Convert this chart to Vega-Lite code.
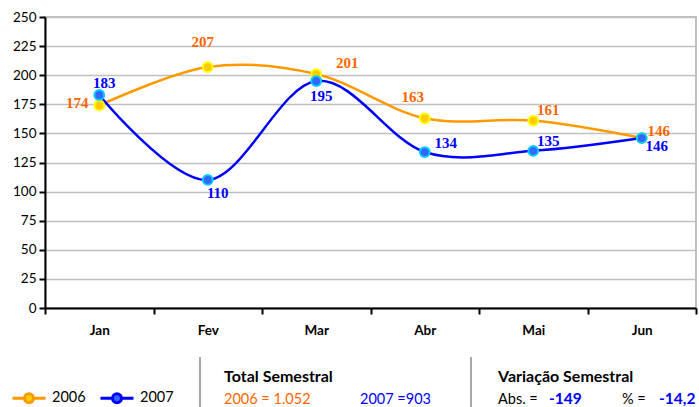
{
  "$schema": "https://vega.github.io/schema/vega-lite/v6.json",
  "width": 651,
  "height": 291,
  "autosize": {"type": "none"},
  "padding": {"left": 45, "top": 17, "right": 3, "bottom": 99},
  "background": "#ffffff",
  "config": {
    "view": {"stroke": "#c0c0c0", "strokeWidth": 2},
    "font": "Lato"
  },
  "data": {
    "values": [
      {"month": "Jan", "series": "2006", "value": 174},
      {"month": "Fev", "series": "2006", "value": 207},
      {"month": "Mar", "series": "2006", "value": 201},
      {"month": "Abr", "series": "2006", "value": 163},
      {"month": "Mai", "series": "2006", "value": 161},
      {"month": "Jun", "series": "2006", "value": 146},
      {"month": "Jan", "series": "2007", "value": 183},
      {"month": "Fev", "series": "2007", "value": 110},
      {"month": "Mar", "series": "2007", "value": 195},
      {"month": "Abr", "series": "2007", "value": 134},
      {"month": "Mai", "series": "2007", "value": 135},
      {"month": "Jun", "series": "2007", "value": 146}
    ]
  },
  "encoding": {
    "x": {
      "field": "month", "type": "ordinal", "sort": ["Jan", "Fev", "Mar", "Abr", "Mai", "Jun"],
      "bandPosition": 0.5,
      "scale": {"type": "band", "paddingInner": 0, "paddingOuter": 0},
      "axis": {
        "title": null, "labelAngle": 0, "tickBand": "extent", "domainColor": "#000000", "domainWidth": 2,
        "tickColor": "#000000", "tickWidth": 2, "tickSize": 6, "labelPadding": 9,
        "labelFont": "Lato", "labelFontSize": 13.5, "labelFontWeight": "bold", "labelColor": "#000000", "grid": false
      }
    },
    "y": {
      "field": "value", "type": "quantitative",
      "scale": {"domain": [0, 250], "nice": false, "zero": true},
      "axis": {
        "title": null, "values": [0, 25, 50, 75, 100, 125, 150, 175, 200, 225, 250],
        "domainColor": "#000000", "domainWidth": 2, "tickColor": "#000000", "tickWidth": 2, "tickSize": 6,
        "labelPadding": 3, "labelFont": "Lato", "labelFontSize": 13.5, "labelColor": "#000000",
        "grid": true, "gridColor": "#c0c0c0", "gridWidth": 1.5
      }
    }
  },
  "layer": [
    {
      "mark": {"type": "line", "interpolate": "cardinal", "strokeWidth": 2.5},
      "encoding": {
        "color": {
          "field": "series", "type": "nominal",
          "scale": {"domain": ["2006", "2007"], "range": ["#ff9900", "#0000ff"]},
          "legend": {
            "orient": "none", "legendX": -34, "legendY": 363, "direction": "horizontal", "title": null,
            "symbolType": "M-1,0H-0.3M0.3,0H1M0,-0.27A0.27,0.27,0,1,1,0,0.27A0.27,0.27,0,1,1,0,-0.27",
            "symbolSize": 1089, "symbolStrokeWidth": 3,
            "labelFont": "Lato", "labelFontSize": 14.5, "labelColor": "#000000", "labelOffset": 5,
            "columnPadding": 8, "padding": 0,
            "encode": {"symbols": {"update": {"fill": {"signal": "datum.value === '2006' ? '#ffcc00' : '#3366ff'"}, "fillOpacity": {"value": 1}}}}
          }
        }
      }
    },
    {
      "mark": {"type": "point", "shape": "circle", "filled": true, "size": 95, "strokeWidth": 2, "opacity": 1},
      "encoding": {
        "fill": {"field": "series", "type": "nominal", "scale": {"domain": ["2006", "2007"], "range": ["#ffcc00", "#3366ff"]}, "legend": null},
        "stroke": {"field": "series", "type": "nominal", "scale": {"domain": ["2006", "2007"], "range": ["#ffff00", "#00ccff"]}, "legend": null}
      }
    },
    {"transform": [{"filter": "datum.series == '2006' && datum.month == 'Jan'"}], "mark": {"type": "text", "dx": -22, "dy": -2, "font": "Liberation Serif", "fontSize": 15, "fontWeight": "bold", "color": "#ff6600"}, "encoding": {"text": {"field": "value"}}},
    {"transform": [{"filter": "datum.series == '2006' && datum.month == 'Fev'"}], "mark": {"type": "text", "dx": -5, "dy": -25, "font": "Liberation Serif", "fontSize": 15, "fontWeight": "bold", "color": "#ff6600"}, "encoding": {"text": {"field": "value"}}},
    {"transform": [{"filter": "datum.series == '2006' && datum.month == 'Mar'"}], "mark": {"type": "text", "dx": 31, "dy": -11, "font": "Liberation Serif", "fontSize": 15, "fontWeight": "bold", "color": "#ff6600"}, "encoding": {"text": {"field": "value"}}},
    {"transform": [{"filter": "datum.series == '2006' && datum.month == 'Abr'"}], "mark": {"type": "text", "dx": -12, "dy": -21, "font": "Liberation Serif", "fontSize": 15, "fontWeight": "bold", "color": "#ff6600"}, "encoding": {"text": {"field": "value"}}},
    {"transform": [{"filter": "datum.series == '2006' && datum.month == 'Mai'"}], "mark": {"type": "text", "dx": 15, "dy": -11, "font": "Liberation Serif", "fontSize": 15, "fontWeight": "bold", "color": "#ff6600"}, "encoding": {"text": {"field": "value"}}},
    {"transform": [{"filter": "datum.series == '2006' && datum.month == 'Jun'"}], "mark": {"type": "text", "dx": 17, "dy": -7, "font": "Liberation Serif", "fontSize": 15, "fontWeight": "bold", "color": "#ff6600"}, "encoding": {"text": {"field": "value"}}},
    {"transform": [{"filter": "datum.series == '2007' && datum.month == 'Jan'"}], "mark": {"type": "text", "dx": 5, "dy": -12, "font": "Liberation Serif", "fontSize": 15, "fontWeight": "bold", "color": "#0000ff"}, "encoding": {"text": {"field": "value"}}},
    {"transform": [{"filter": "datum.series == '2007' && datum.month == 'Fev'"}], "mark": {"type": "text", "dx": 10, "dy": 13, "font": "Liberation Serif", "fontSize": 15, "fontWeight": "bold", "color": "#0000ff"}, "encoding": {"text": {"field": "value"}}},
    {"transform": [{"filter": "datum.series == '2007' && datum.month == 'Mar'"}], "mark": {"type": "text", "dx": 5, "dy": 15, "font": "Liberation Serif", "fontSize": 15, "fontWeight": "bold", "color": "#0000ff"}, "encoding": {"text": {"field": "value"}}},
    {"transform": [{"filter": "datum.series == '2007' && datum.month == 'Abr'"}], "mark": {"type": "text", "dx": 21, "dy": -9, "font": "Liberation Serif", "fontSize": 15, "fontWeight": "bold", "color": "#0000ff"}, "encoding": {"text": {"field": "value"}}},
    {"transform": [{"filter": "datum.series == '2007' && datum.month == 'Mai'"}], "mark": {"type": "text", "dx": 15, "dy": -10, "font": "Liberation Serif", "fontSize": 15, "fontWeight": "bold", "color": "#0000ff"}, "encoding": {"text": {"field": "value"}}},
    {"transform": [{"filter": "datum.series == '2007' && datum.month == 'Jun'"}], "mark": {"type": "text", "dx": 15, "dy": 8, "font": "Liberation Serif", "fontSize": 15, "fontWeight": "bold", "color": "#0000ff"}, "encoding": {"text": {"field": "value"}}},
    {
      "data": {"values": [{"divider": "a"}]},
      "mark": {"type": "rule", "color": "#a8a8a8", "strokeWidth": 2},
      "encoding": {"x": {"value": 155}, "y": {"value": 340}, "y2": {"value": 392}}
    },
    {
      "data": {"values": [{"divider": "b"}]},
      "mark": {"type": "rule", "color": "#a8a8a8", "strokeWidth": 2},
      "encoding": {"x": {"value": 426}, "y": {"value": 340}, "y2": {"value": 392}}
    },
    {
      "data": {"values": [{"label": "Total Semestral"}]},
      "mark": {"type": "text", "align": "left", "baseline": "alphabetic", "font": "Lato", "fontSize": 16, "fontWeight": "bold", "color": "#000000"},
      "encoding": {"x": {"value": 179}, "y": {"value": 365}, "text": {"field": "label"}}
    },
    {
      "data": {"values": [{"label": "Variação Semestral"}]},
      "mark": {"type": "text", "align": "left", "baseline": "alphabetic", "font": "Lato", "fontSize": 16, "fontWeight": "bold", "color": "#000000"},
      "encoding": {"x": {"value": 453}, "y": {"value": 365}, "text": {"field": "label"}}
    },
    {
      "data": {"values": [{"label": "2006 = 1.052"}]},
      "mark": {"type": "text", "align": "left", "baseline": "alphabetic", "font": "Lato", "fontSize": 14.5, "color": "#ff6600"},
      "encoding": {"x": {"value": 179}, "y": {"value": 387}, "text": {"field": "label"}}
    },
    {
      "data": {"values": [{"label": "2007 =903"}]},
      "mark": {"type": "text", "align": "left", "baseline": "alphabetic", "font": "Lato", "fontSize": 14.5, "color": "#0000ff"},
      "encoding": {"x": {"value": 315}, "y": {"value": 387}, "text": {"field": "label"}}
    },
    {
      "data": {"values": [{"label": "Abs. ="}]},
      "mark": {"type": "text", "align": "left", "baseline": "alphabetic", "font": "Lato", "fontSize": 14.5, "color": "#000000"},
      "encoding": {"x": {"value": 453}, "y": {"value": 387}, "text": {"field": "label"}}
    },
    {
      "data": {"values": [{"label": "-149"}]},
      "mark": {"type": "text", "align": "left", "baseline": "alphabetic", "font": "Lato", "fontSize": 15.5, "fontWeight": "bold", "color": "#0000ff"},
      "encoding": {"x": {"value": 504}, "y": {"value": 387}, "text": {"field": "label"}}
    },
    {
      "data": {"values": [{"label": "% ="}]},
      "mark": {"type": "text", "align": "left", "baseline": "alphabetic", "font": "Lato", "fontSize": 14.5, "color": "#000000"},
      "encoding": {"x": {"value": 577}, "y": {"value": 387}, "text": {"field": "label"}}
    },
    {
      "data": {"values": [{"label": "-14,2"}]},
      "mark": {"type": "text", "align": "left", "baseline": "alphabetic", "font": "Lato", "fontSize": 15.5, "fontWeight": "bold", "color": "#0000ff"},
      "encoding": {"x": {"value": 614}, "y": {"value": 387}, "text": {"field": "label"}}
    }
  ]
}
